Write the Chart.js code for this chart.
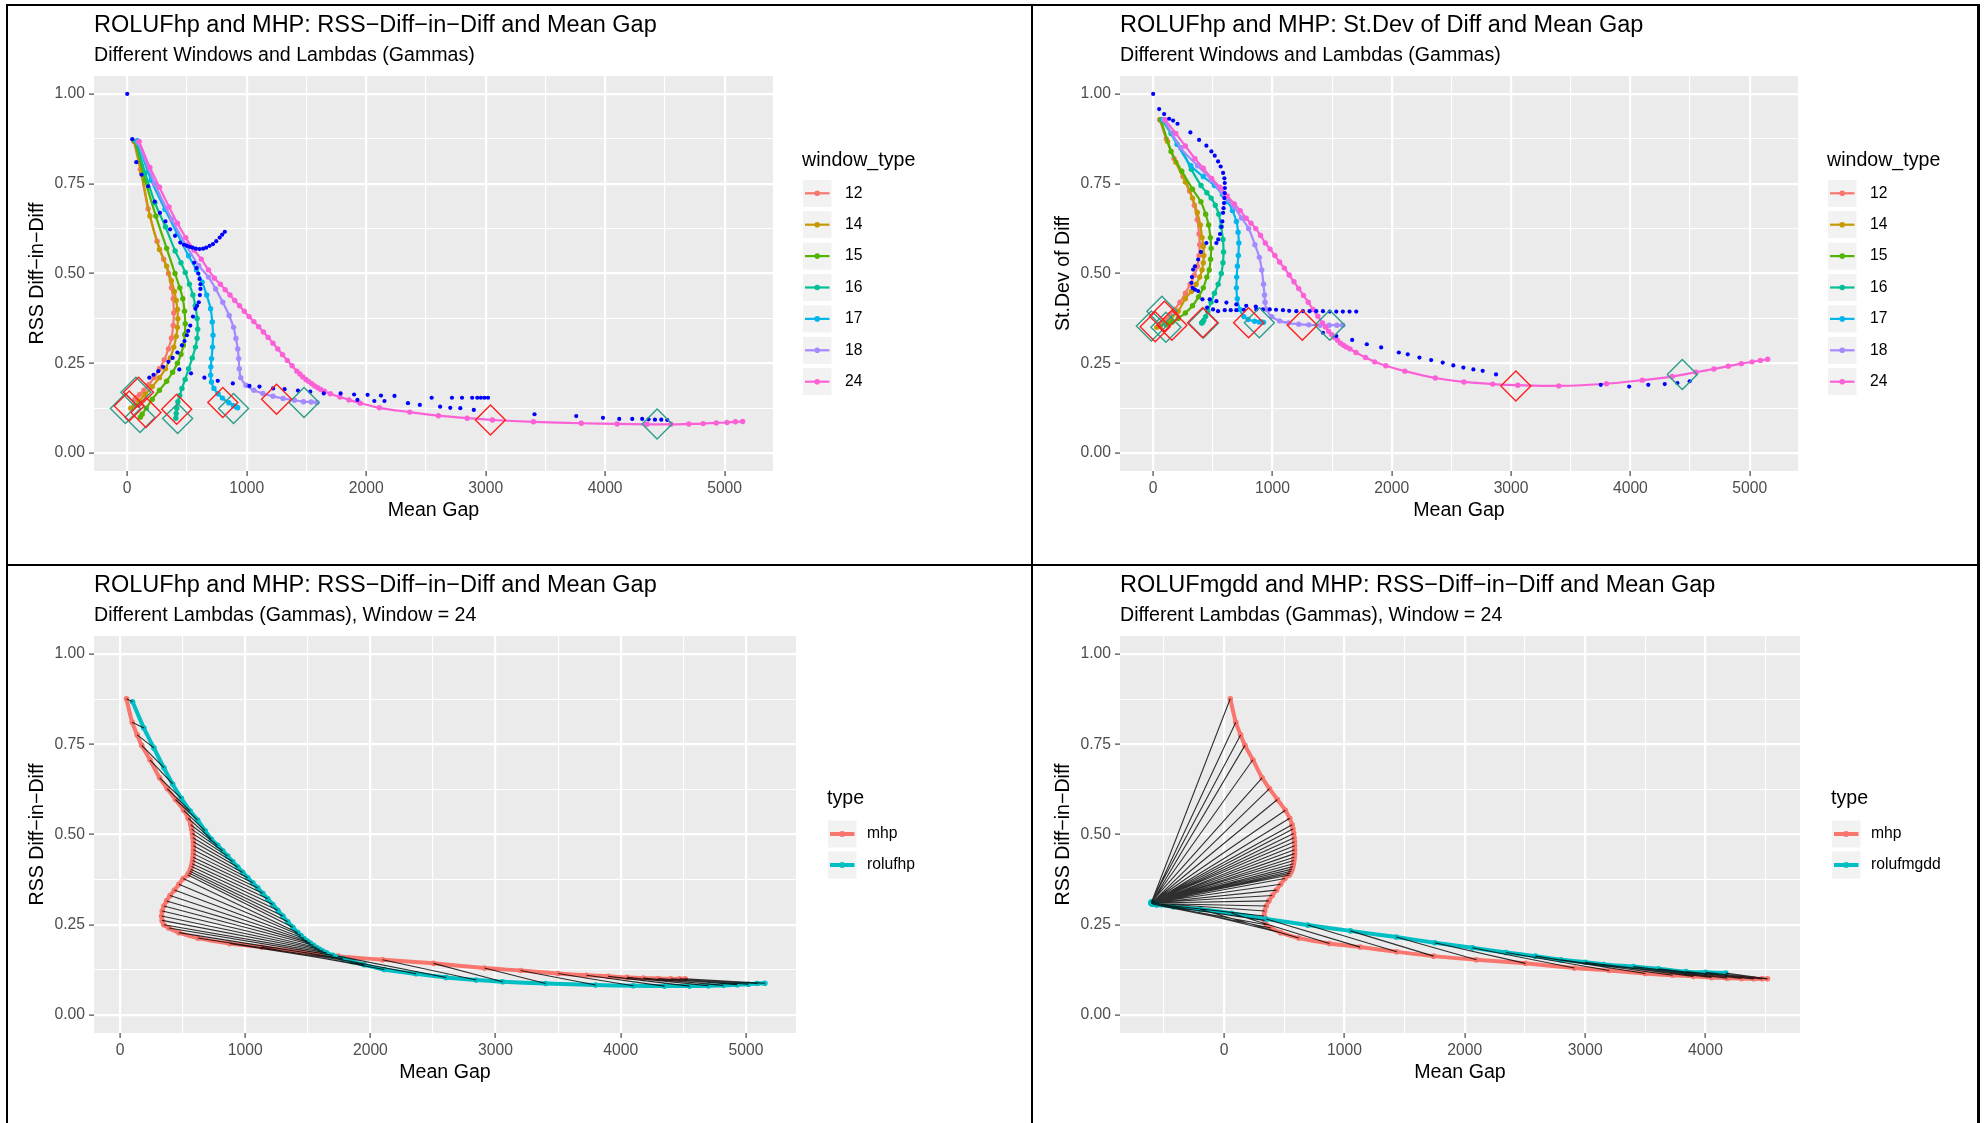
<!DOCTYPE html>
<html>
<head>
<meta charset="utf-8">
<script src="https://cdn.jsdelivr.net/npm/chart.js@4.4.1/dist/chart.umd.min.js"></script>
<style>
  body { margin: 0; background: #fff; width: 1988px; height: 1123px; position: relative; overflow: hidden; }
  canvas { position: absolute; }
  .rule { position: absolute; background: #000; }
</style>
</head>
<body>
<div class="rule" style="left:6px;top:4px;width:1974px;height:2px"></div>
<div class="rule" style="left:6px;top:4px;width:2px;height:1119px"></div>
<div class="rule" style="left:1977px;top:4px;width:3px;height:1119px"></div>
<div class="rule" style="left:1031px;top:4px;width:2px;height:1119px"></div>
<div class="rule" style="left:6px;top:564px;width:1974px;height:2px"></div>
<canvas id="tl"></canvas>
<canvas id="tr"></canvas>
<canvas id="bl"></canvas>
<canvas id="br"></canvas>
<script>
// ---- data ----
const windowTypes = ['12', '14', '15', '16', '17', '18', '24'];

const gap12 = [55,110,175,250,305,345,370,385,390,385,370,345,310,270,225,180,140,105,80,65];
const rss12 = [0.868,0.79,0.68,0.59,0.54,0.50,0.46,0.43,0.39,0.355,0.32,0.29,0.26,0.235,0.21,0.19,0.175,0.163,0.155,0.15];
const sd12  = [0.928,0.875,0.82,0.77,0.73,0.69,0.65,0.61,0.58,0.55,0.52,0.495,0.47,0.445,0.42,0.40,0.385,0.372,0.365,0.36];

const gap14 = [60,120,190,270,330,370,395,410,420,424,420,410,390,360,320,270,210,150,100,60,30];
const rss14 = [0.868,0.78,0.66,0.567,0.52,0.48,0.45,0.425,0.40,0.374,0.35,0.325,0.295,0.265,0.235,0.21,0.185,0.163,0.145,0.132,0.125];
const sd14  = [0.928,0.868,0.81,0.755,0.71,0.67,0.635,0.60,0.575,0.55,0.53,0.51,0.49,0.47,0.45,0.43,0.395,0.375,0.362,0.354,0.35];

const gap15 = [65,150,240,330,400,440,465,480,486,482,470,450,420,380,330,270,210,160,125,110];
const rss15 = [0.868,0.76,0.66,0.57,0.50,0.46,0.43,0.395,0.36,0.33,0.30,0.275,0.25,0.225,0.20,0.175,0.15,0.125,0.108,0.10];
const sd15  = [0.928,0.84,0.785,0.735,0.70,0.665,0.635,0.60,0.57,0.54,0.51,0.49,0.46,0.435,0.41,0.39,0.375,0.365,0.36,0.357];

const gap16 = [75,150,232,320,401,450,486,520,550,570,585,590,585,571,545,514,485,458,440,424,415,410,407];
const rss16 = [0.868,0.78,0.697,0.63,0.563,0.53,0.503,0.47,0.44,0.41,0.375,0.345,0.32,0.295,0.265,0.235,0.205,0.18,0.16,0.143,0.125,0.11,0.097];
const sd16  = [0.928,0.89,0.85,0.79,0.745,0.725,0.71,0.69,0.665,0.63,0.595,0.56,0.53,0.50,0.47,0.445,0.42,0.395,0.38,0.37,0.365,0.363,0.362];

const gap17 = [85,200,316,420,514,580,627,665,698,712,718,714,706,700,698,705,726,760,797,850,890,910,925];
const rss17 = [0.87,0.76,0.679,0.61,0.549,0.51,0.476,0.44,0.402,0.365,0.328,0.295,0.263,0.24,0.217,0.198,0.18,0.165,0.153,0.14,0.132,0.129,0.126];
const sd17  = [0.928,0.86,0.80,0.77,0.745,0.72,0.70,0.675,0.645,0.615,0.585,0.55,0.52,0.49,0.46,0.43,0.40,0.38,0.372,0.367,0.365,0.365,0.364];

const gap18 = [90,230,373,490,599,680,740,800,853,890,910,925,933,938,950,994,1060,1136,1220,1305,1400,1475,1540,1588];
const rss18 = [0.865,0.75,0.651,0.58,0.522,0.49,0.457,0.42,0.383,0.35,0.319,0.29,0.263,0.235,0.21,0.189,0.175,0.166,0.158,0.152,0.147,0.143,0.142,0.141];
const sd18  = [0.928,0.85,0.80,0.76,0.712,0.685,0.655,0.625,0.58,0.545,0.51,0.47,0.44,0.42,0.40,0.38,0.368,0.362,0.359,0.357,0.356,0.356,0.356,0.356];

// window 24 = rolufhp in the lower left panel
const gap24 = [100,190,270,350,420,490, 560,620,680,730,
  780,820,860,900,940,980,1020,1060,1100,1140,1180,1220,1260,1300,1340,1380,
  1420,1445,1470,1495,1520,1545,1570,1595,1620,1650,
  1700,1780,1856,1950,2110,2365,2605,2845,3057,3400,3800,4100,4350,4550,4700,4820,4930,5020,5090,5151];
const rss24 = [0.868,0.795,0.74,0.685,0.64,0.60, 0.565,0.54,0.51,0.487,
  0.47,0.455,0.44,0.425,0.41,0.395,0.38,0.366,0.352,0.337,0.322,0.306,0.29,0.274,0.258,0.243,
  0.228,0.22,0.212,0.205,0.199,0.193,0.187,0.182,0.177,0.172,
  0.165,0.156,0.148,0.139,0.126,0.114,0.104,0.097,0.092,0.087,0.083,0.081,0.08,0.08,0.081,0.082,0.084,0.085,0.087,0.088];
const sd24 = [0.928,0.89,0.855,0.82,0.793,0.765, 0.74,0.716,0.694,0.675,
  0.654,0.64,0.625,0.606,0.585,0.568,0.55,0.532,0.515,0.496,0.477,0.458,0.439,0.42,0.40,0.381,
  0.362,0.351,0.339,0.33,0.322,0.314,0.306,0.30,0.295,0.29,
  0.28,0.266,0.254,0.243,0.228,0.209,0.198,0.192,0.189,0.187,0.193,0.203,0.213,0.225,0.234,0.242,0.249,0.254,0.258,0.261];

// mhp, window 24 (same lambdas as gap24)
const mhpGap = [51,97,137,173,239,316, 377,443,509,545,
  565,572,578,582,585,586,586,585,583,580,576,571,565,558,550,542,
  505,470,435,400,372,350,337,332,336,350,
  390,470,621,875,1130,1435,1741,2097,2504,2911,3200,3500,3726,3900,4050,4180,4300,4400,4470,4515];
const mhpRss = [0.876,0.811,0.776,0.747,0.707,0.657, 0.627,0.597,0.567,0.545,
  0.527,0.515,0.503,0.491,0.48,0.469,0.458,0.447,0.437,0.428,0.419,0.411,0.404,0.398,0.393,0.388,
  0.378,0.362,0.346,0.331,0.316,0.302,0.288,0.274,0.262,0.25,
  0.241,0.228,0.213,0.198,0.188,0.175,0.163,0.153,0.143,0.13,0.123,0.115,0.11,0.107,0.104,0.102,0.101,0.1,0.1,0.1];

// rolufmgdd, window 24
const mgddGap = [-605,-604,-606,-603,-605,-607,-604,-602,-606,-605,-603,-604,-606,-605,-602,-604,-607,-603,
  -605,-604,-606,-603,-605,-604,-602,-606,-605,-603,-604,-606,-602,-605,-604,-603,-600,-595,
  -560,-420,-200,61,350,695,1049,1430,1750,2063,2342,2586,2799,3000,3153,3400,3610,3838,4000,4168];
const mgddRss = [0.311,0.311,0.312,0.31,0.311,0.312,0.31,0.311,0.311,0.31,0.312,0.311,0.31,0.311,0.312,0.31,0.311,0.311,
  0.31,0.312,0.311,0.31,0.311,0.31,0.311,0.312,0.31,0.311,0.31,0.311,0.31,0.309,0.31,0.309,0.308,0.307,
  0.305,0.3,0.293,0.282,0.266,0.249,0.233,0.216,0.2,0.186,0.173,0.163,0.153,0.146,0.14,0.134,0.128,0.12,0.118,0.116];

// blue points, upper left
const blueRssGap = [0,42,76,120,175,230,274,320,359,400,444,475,500,525,548,575,605,635,661,690,718,745,774,795,817,
  560,580,595,605,613,613,608,599,585,571,550,528,510,500,480,458,420,380,345,300,260,220,185,
  436,534,646,758,884,1023,1107,1221,1317,1429,1532,1645,1786,1899,2012,2124,2237,2548,2718,2802,2887,2930,2960,2990,3020,
  1927,2068,2153,2350,2449,2619,2704,2788,2901,
  3409,3758,3982,4118,4227,4310,4363,4417,4470,4520];
const blueRss = [1.0,0.874,0.81,0.775,0.743,0.70,0.669,0.645,0.623,0.605,0.586,0.58,0.577,0.574,0.572,0.569,0.568,0.569,0.572,0.577,0.582,0.59,0.60,0.608,0.616,
  0.53,0.515,0.50,0.485,0.47,0.457,0.44,0.42,0.41,0.402,0.38,0.355,0.34,0.328,0.312,0.30,0.28,0.265,0.254,0.24,0.228,0.218,0.21,
  0.233,0.222,0.21,0.201,0.194,0.187,0.185,0.18,0.178,0.174,0.171,0.166,0.166,0.163,0.162,0.16,0.159,0.154,0.154,0.154,0.154,0.154,0.154,0.154,0.154,
  0.148,0.145,0.145,0.139,0.134,0.129,0.126,0.125,0.12,
  0.108,0.103,0.098,0.095,0.095,0.095,0.094,0.093,0.093,0.092];

// blue points, upper right
const blueSdGap = [0,50,92,134,167,204,312,385,446,488,516,544,566,586,597,600,601,600,597,594,590,586,580,572,560,545,530,
  446,400,377,350,335,325,321,330,350,377,413,452,502,544,600,650,697,760,865,920,977,1030,1088,1140,1200,1255,1311,1367,1423,1480,1535,1590,1646,1702,
  474,530,614,697,780,860,
  1423,1535,1668,1791,1911,2059,2134,2232,2330,2427,2516,2600,2684,2762,2874,3752,3990,4150,4288,4394,4497];
const blueSd = [1.0,0.958,0.944,0.931,0.926,0.917,0.893,0.872,0.856,0.84,0.828,0.812,0.798,0.78,0.765,0.752,0.738,0.724,0.71,0.696,0.682,0.669,0.645,0.63,0.61,0.595,0.585,
  0.585,0.56,0.539,0.52,0.511,0.49,0.474,0.46,0.455,0.451,0.428,0.405,0.40,0.395,0.398,0.398,0.398,0.399,0.40,0.40,0.40,0.399,0.398,0.396,0.395,0.395,0.395,0.395,0.395,0.394,0.394,0.394,0.394,0.394,
  0.428,0.423,0.419,0.414,0.41,0.408,
  0.335,0.326,0.315,0.303,0.294,0.28,0.275,0.266,0.259,0.252,0.244,0.238,0.233,0.229,0.219,0.19,0.185,0.19,0.192,0.195,0.2];

// open diamonds
const redMarkGap = [17,95,157,414,800,1250,3040];
const redMarkRss = [0.131,0.169,0.113,0.122,0.141,0.15,0.092];
const redMarkSd  = [0.352,0.381,0.356,0.363,0.363,0.356,0.187];
const tealMarkGap = [73,-15,107,422,890,1480,4435];
const tealMarkRss = [0.169,0.124,0.099,0.096,0.124,0.141,0.081];
const tealMarkSd  = [0.395,0.354,0.35,0.362,0.363,0.356,0.219];

// axis breaks (minor + major)
const yBreaks = [0, 0.125, 0.25, 0.375, 0.5, 0.625, 0.75, 0.875, 1];
const gapBreaks = [0, 500, 1000, 1500, 2000, 2500, 3000, 3500, 4000, 4500, 5000];
const gapBreaksMgdd = [-500, 0, 500, 1000, 1500, 2000, 2500, 3000, 3500, 4000, 4500];

// ---- styling ----
const FONT = '"Liberation Sans", Arial, Helvetica, sans-serif';
Chart.defaults.font.family = FONT;
const winColors = ['#F8766D', '#C49A00', '#53B400', '#00C094', '#00B6EB', '#A58AFF', '#FB61D7'];
const typeColors = ['#F8766D', '#00BFC4'];

const pts = (xs, ys) => xs.map((x, i) => ({x: x, y: ys[i]}));
function links(ax, ay, bx, by) {
  const out = [];
  ax.forEach((x, i) => {
    out.push({x: x, y: ay[i]}, {x: bx[i], y: by[i]}, {x: NaN, y: NaN});
  });
  return out;
}

const majorY = v => Math.abs(v * 4 - Math.round(v * 4)) < 1e-9;
const majorGap = v => v % 1000 === 0;

function grid(isMajor) {
  return {
    color: '#FFFFFF',
    lineWidth: c => (c.tick && isMajor(c.tick.value)) ? 2.2 : 1.1,
    tickColor: c => (c.tick && isMajor(c.tick.value)) ? '#333333' : 'rgba(0,0,0,0)',
    tickLength: 5,
    tickWidth: 1.1
  };
}

// grey panel, titles and ggplot style legend
const ggPanel = {
  id: 'ggPanel',
  beforeDraw(chart) {
    const a = chart.chartArea, ctx = chart.ctx;
    ctx.save();
    ctx.fillStyle = '#EBEBEB';
    ctx.fillRect(a.left, a.top, a.right - a.left, a.bottom - a.top);
    ctx.restore();
  },
  afterDraw(chart, args, o) {
    const a = chart.chartArea, ctx = chart.ctx;
    ctx.save();
    ctx.textBaseline = 'middle';
    ctx.textAlign = 'left';
    ctx.fillStyle = '#000';
    ctx.font = '23.5px ' + FONT;
    ctx.fillText(o.title, a.left, a.top - 50.5);
    ctx.font = '19.6px ' + FONT;
    ctx.fillText(o.subtitle, a.left, a.top - 20.5);

    const lx = a.right + o.dx;
    ctx.fillText(o.legendTitle, lx, a.top + o.titleDy);
    o.labels.forEach((lab, i) => {
      const cy = a.top + o.keyDy + i * o.step;
      ctx.fillStyle = '#F2F2F2';
      ctx.fillRect(lx + 1, cy - 13.5, 28.5, 27);
      ctx.strokeStyle = o.colors[i];
      ctx.lineWidth = o.keyLine;
      ctx.beginPath();
      ctx.moveTo(lx + 3, cy);
      ctx.lineTo(lx + 27.5, cy);
      ctx.stroke();
      ctx.fillStyle = o.colors[i];
      ctx.beginPath();
      ctx.arc(lx + 15.2, cy, o.keyPoint, 0, Math.PI * 2);
      ctx.fill();
      ctx.fillStyle = '#000';
      ctx.font = '15.7px ' + FONT;
      ctx.fillText(lab, lx + o.labelDx, cy);
    });
    ctx.restore();
  }
};

function makePanel(id, rect, area, xr, xBreaks, yTitle, datasets, legend) {
  const cv = document.getElementById(id);
  cv.style.left = rect[0] + 'px';
  cv.style.top = rect[1] + 'px';
  cv.width = rect[2];
  cv.height = rect[3];
  const yW = area[0] - rect[0];
  const xH = 60;
  return new Chart(cv, {
    type: 'scatter',
    data: {datasets: datasets},
    options: {
      responsive: false,
      animation: false,
      devicePixelRatio: 1,
      events: [],
      layout: {padding: {left: 0, top: area[1] - rect[1], right: rect[0] + rect[2] - area[2], bottom: rect[1] + rect[3] - area[3] - xH}},
      plugins: {legend: {display: false}, tooltip: {enabled: false}, ggPanel: legend},
      scales: {
        x: {
          type: 'linear', min: xr[0], max: xr[1],
          afterBuildTicks: s => { s.ticks = xBreaks.map(v => ({value: v})); },
          afterFit: s => { s.height = xH; },
          grid: grid(majorGap),
          border: {display: false},
          ticks: {autoSkip: false, maxRotation: 0, padding: 3, color: '#4D4D4D', font: {size: 15.7},
                  callback: v => majorGap(v) ? String(v) : ''},
          title: {display: true, text: 'Mean Gap', color: '#000', font: {size: 19.6}, padding: {top: 0, bottom: 9}}
        },
        y: {
          type: 'linear', min: -0.05, max: 1.05,
          afterBuildTicks: s => { s.ticks = yBreaks.map(v => ({value: v})); },
          afterFit: s => { s.width = yW; },
          grid: grid(majorY),
          border: {display: false},
          ticks: {autoSkip: false, padding: 4, color: '#4D4D4D', font: {size: 15.7},
                  callback: v => majorY(v) ? v.toFixed(2) : ''},
          title: {display: true, text: yTitle, color: '#000', font: {size: 19.6}, padding: {top: yW - 56 - 11.8, bottom: 0}}
        }
      }
    },
    plugins: [ggPanel]
  });
}

// ---- upper panels: all windows ----
const winGaps = [gap12, gap14, gap15, gap16, gap17, gap18, gap24];
const winRss = [rss12, rss14, rss15, rss16, rss17, rss18, rss24];
const winSd = [sd12, sd14, sd15, sd16, sd17, sd18, sd24];

function upperSets(ys, blueX, blueY, redY, tealY) {
  const sets = windowTypes.map((w, k) => ({
    label: w, data: pts(winGaps[k], ys[k]), showLine: true, tension: 0.3,
    borderColor: winColors[k], backgroundColor: winColors[k], borderWidth: 2.2,
    pointRadius: 2.7, pointBorderWidth: 0, order: 8 - k
  }));
  sets.push({label: 'blue', data: pts(blueX, blueY), showLine: false, backgroundColor: '#0000FF',
             pointRadius: 2.1, pointBorderWidth: 0, order: 1});
  sets.push({label: 'redMark', data: pts(redMarkGap, redY), showLine: false, pointStyle: 'rectRot',
             pointRadius: 15, borderColor: '#FF2020', backgroundColor: 'rgba(0,0,0,0)', pointBorderWidth: 1.4, order: 0});
  sets.push({label: 'tealMark', data: pts(tealMarkGap, tealY), showLine: false, pointStyle: 'rectRot',
             pointRadius: 15, borderColor: '#2E9E8A', backgroundColor: 'rgba(0,0,0,0)', pointBorderWidth: 1.4, order: 0});
  return sets;
}

const winLegend = {legendTitle: 'window_type', labels: windowTypes, colors: winColors,
                   dx: 29, titleDy: 85, keyDy: 117.3, step: 31.4, labelDx: 43, keyLine: 2.2, keyPoint: 2.8};

makePanel('tl', [8, 6, 1023, 558], [94, 76, 773, 471], [-278, 5405], gapBreaks, 'RSS Diff\u2212in\u2212Diff',
  upperSets(winRss, blueRssGap, blueRss, redMarkRss, tealMarkRss),
  Object.assign({title: 'ROLUFhp and MHP: RSS\u2212Diff\u2212in\u2212Diff and Mean Gap',
                 subtitle: 'Different Windows and Lambdas (Gammas)'}, winLegend));

makePanel('tr', [1034, 6, 942, 558], [1120, 76, 1798, 471], [-278, 5405], gapBreaks, 'St.Dev of Diff',
  upperSets(winSd, blueSdGap, blueSd, redMarkSd, tealMarkSd),
  Object.assign({title: 'ROLUFhp and MHP: St.Dev of Diff and Mean Gap',
                 subtitle: 'Different Windows and Lambdas (Gammas)'}, winLegend));

// ---- lower panels: window 24, paired lambdas ----
function lowerSets(otherGap, otherRss, otherLabel) {
  return [
    {label: 'links', data: links(mhpGap, mhpRss, otherGap, otherRss), showLine: true, spanGaps: false,
     borderColor: 'rgba(0,0,0,0.8)', borderWidth: 1.1, pointRadius: 0, tension: 0, order: 0},
    {label: otherLabel, data: pts(otherGap, otherRss), showLine: true, tension: 0.25,
     borderColor: typeColors[1], backgroundColor: typeColors[1], borderWidth: 4, pointRadius: 2.8, pointBorderWidth: 0, order: 1},
    {label: 'mhp', data: pts(mhpGap, mhpRss), showLine: true, tension: 0.25,
     borderColor: typeColors[0], backgroundColor: typeColors[0], borderWidth: 4, pointRadius: 2.8, pointBorderWidth: 0, order: 2}
  ];
}

const typeLegend = {legendTitle: 'type', colors: typeColors, dx: 31, titleDy: 163, keyDy: 198, step: 31,
                    labelDx: 40, keyLine: 4, keyPoint: 3};

makePanel('bl', [8, 566, 1023, 557], [94, 636, 796, 1033], [-208, 5400], gapBreaks, 'RSS Diff\u2212in\u2212Diff',
  lowerSets(gap24, rss24, 'rolufhp'),
  Object.assign({title: 'ROLUFhp and MHP: RSS\u2212Diff\u2212in\u2212Diff and Mean Gap',
                 subtitle: 'Different Lambdas (Gammas), Window = 24', labels: ['mhp', 'rolufhp']}, typeLegend));

makePanel('br', [1034, 566, 942, 557], [1120, 636, 1800, 1033], [-865, 4785], gapBreaksMgdd, 'RSS Diff\u2212in\u2212Diff',
  lowerSets(mgddGap, mgddRss, 'rolufmgdd'),
  Object.assign({title: 'ROLUFmgdd and MHP: RSS\u2212Diff\u2212in\u2212Diff and Mean Gap',
                 subtitle: 'Different Lambdas (Gammas), Window = 24', labels: ['mhp', 'rolufmgdd']}, typeLegend));
</script>
</body>
</html>
